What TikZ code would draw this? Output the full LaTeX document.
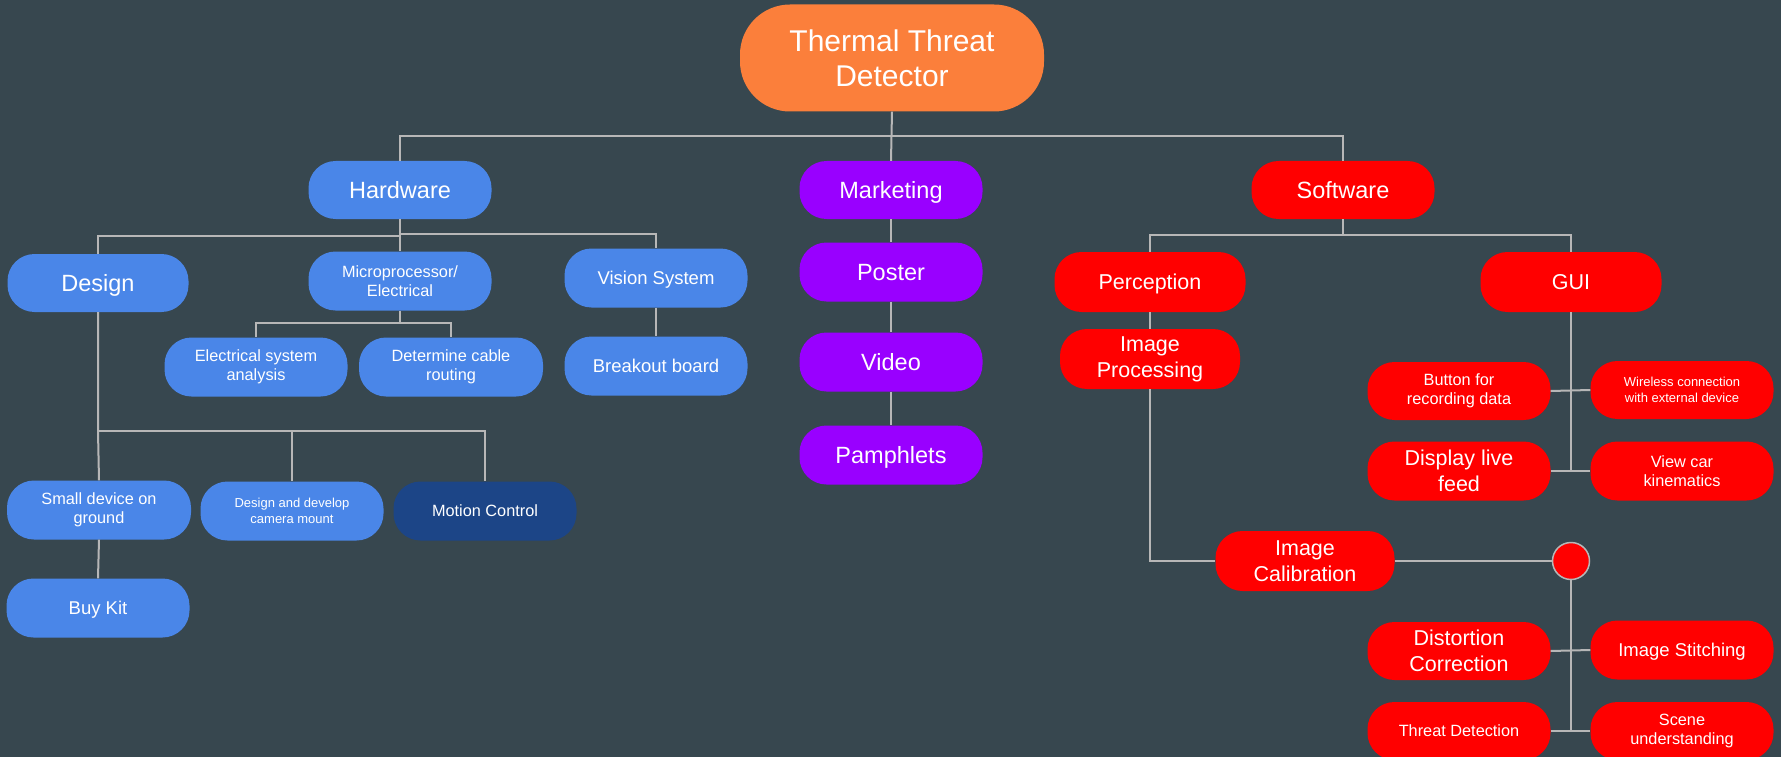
\documentclass[tikz,border=0pt]{standalone}
\usepackage{fontspec}
\setmainfont{Liberation Sans}
\definecolor{bg}{HTML}{37474F}
\definecolor{cblue}{HTML}{4A86E8}
\definecolor{cnavy}{HTML}{1C4587}
\definecolor{cpurple}{HTML}{9900FF}
\definecolor{cred}{HTML}{FF0000}
\definecolor{corange}{HTML}{FB7F3B}
\definecolor{cline}{HTML}{B7B7B7}
\tikzset{
  box/.style={rounded corners=27pt, minimum width=183pt, minimum height=59pt,
    inner sep=0pt, text=white, align=center},
  hwbox/.style={box, fill=cblue},
  mkbox/.style={box, fill=cpurple},
  swbox/.style={box, fill=cred},
  conn/.style={draw=cline, line width=2pt},
  fA/.style={font=\fontsize{30}{35}\selectfont},
  fB/.style={font=\fontsize{23.5}{27}\selectfont},
  fC/.style={font=\fontsize{21.5}{26}\selectfont},
  fD/.style={font=\fontsize{18.5}{21}\selectfont},
  fE/.style={font=\fontsize{16.3}{19.5}\selectfont},
  fF/.style={font=\fontsize{13}{16}\selectfont},
  % single-line labels: centre the capitals in the box
  oneB/.style={fB, text height=16.8pt, text depth=0pt},
  oneC/.style={fC, text height=15.4pt, text depth=0pt},
  oneD/.style={fD, text height=13.2pt, text depth=0pt},
  oneE/.style={fE, text height=11.7pt, text depth=0pt},
}
\begin{document}
\begin{tikzpicture}[x=1pt,y=-1pt]
\fill[bg] (0,0) rectangle (1781,757);
\useasboundingbox (0,0) rectangle (1781,757);

% root
\node[box, fill=corange, fA, minimum width=304pt, minimum height=107pt, rounded corners=50pt] (root) at (892,58) {Thermal Threat\\Detector};

% first level
\node[hwbox, oneB, minimum height=58pt] (hw) at (400,190) {Hardware};
\node[mkbox, oneB, minimum height=58pt] (mk) at (891,190) {Marketing};
\node[swbox, oneB, minimum height=58pt] (sw) at (1343,190) {Software};

% hardware branch
\node[hwbox, oneB, minimum width=181pt, minimum height=58pt] (ds) at (98,283) {Design};
\node[hwbox, fE] (mp) at (400,281) {Microprocessor/\\Electrical};
\node[hwbox, oneD] (vs) at (656,278) {Vision System};
\node[hwbox, fE] (esa) at (256,367) {Electrical system\\analysis};
\node[hwbox, fE, minimum width=184pt] (dcr) at (451,367) {Determine cable\\routing};
\node[hwbox, oneD] (bb) at (656,366) {Breakout board};
\node[hwbox, fE, minimum width=184pt] (sd) at (99,510) {Small device on\\ground};
\node[hwbox, fF] (cm) at (292,511) {Design and develop\\camera mount};
\node[box, fill=cnavy, oneE] (mc) at (485,511) {Motion Control};
\node[hwbox, oneD] (bk) at (98,608) {Buy Kit};

% marketing branch
\node[mkbox, oneB] (ps) at (891,272) {Poster};
\node[mkbox, oneB] (vd) at (891,362) {Video};
\node[mkbox, oneB] (pm) at (891,455) {Pamphlets};

% software branch
\node[swbox, oneC, minimum width=191pt, minimum height=60pt] (pc) at (1150,282) {Perception};
\node[swbox, oneC, minimum width=181pt, minimum height=60pt] (gui) at (1571,282) {GUI};
\node[swbox, fC, minimum width=180pt, minimum height=60pt] (ip) at (1150,359) {Image\\Processing};
\node[swbox, fC, minimum width=179pt, minimum height=60pt] (ic) at (1305,561) {Image\\Calibration};
\node[circle, fill=cred, draw=cline, line width=1.5pt, minimum size=37pt, inner sep=0pt] (circ) at (1571,561) {};
\node[swbox, fE, minimum height=58pt] (bt) at (1459,391) {Button for\\recording data};
\node[swbox, fF, minimum height=58pt] (wl) at (1682,390) {Wireless connection\\with external device};
\node[swbox, fC] (dl) at (1459,471) {Display live\\feed};
\node[swbox, fE] (vk) at (1682,471) {View car\\kinematics};
\node[swbox, fC, minimum height=58pt] (dc) at (1459,651) {Distortion\\Correction};
\node[swbox, oneD] (is) at (1682,650) {Image Stitching};
\node[swbox, oneE, minimum height=58pt] (td) at (1459,731) {Threat Detection};
\node[swbox, fE, minimum height=58pt] (su) at (1682,731) {Scene\\understanding};

% bus levels
\coordinate (busTop) at (0,136);
\coordinate (busHwL) at (0,236);
\coordinate (busHwR) at (0,234);
\coordinate (busMp) at (0,323);
\coordinate (busDs) at (0,431);
\coordinate (busSw) at (0,235);

% root connectors
\draw[conn] (root.south) -- (mk.north);
\draw[conn] (hw.north) -- (hw.north |- busTop) -- (sw.north |- busTop) -- (sw.north);

% hardware connectors
\draw[conn] (hw.south) -- (mp.north);
\draw[conn] (hw.south |- busHwL) -| (ds.north);
\draw[conn] (hw.south |- busHwR) -| (vs.north);
\draw[conn] (mp.south) -- (mp.south |- busMp) -| (esa.north);
\draw[conn] (mp.south |- busMp) -| (dcr.north);
\draw[conn] (vs.south) -- (bb.north);
\draw[conn] (ds.south) -- (ds.south |- busDs) -- (sd.north);
\draw[conn] (ds.south |- busDs) -| (cm.north);
\draw[conn] (cm.north |- busDs) -| (mc.north);
\draw[conn] (sd.south) -- (bk.north);

% marketing connectors
\draw[conn] (mk.south) -- (ps.north);
\draw[conn] (ps.south) -- (vd.north);
\draw[conn] (vd.south) -- (pm.north);

% software connectors
\draw[conn] (sw.south) -- (sw.south |- busSw) -| (pc.north);
\draw[conn] (sw.south |- busSw) -| (gui.north);
\draw[conn] (pc.south) -- (ip.north);
\draw[conn] (ip.south) |- (ic.west);
\draw[conn] (ic.east) -- (circ.west);
\draw[conn] (gui.south) -- (gui.south |- dl.east);
\draw[conn] (bt.east) -- (wl.west);
\draw[conn] (dl.east) -- (vk.west);
\draw[conn] (circ.south) -- (circ.south |- td.east);
\draw[conn] (dc.east) -- (is.west);
\draw[conn] (td.east) -- (su.west);
\end{tikzpicture}
\end{document}
